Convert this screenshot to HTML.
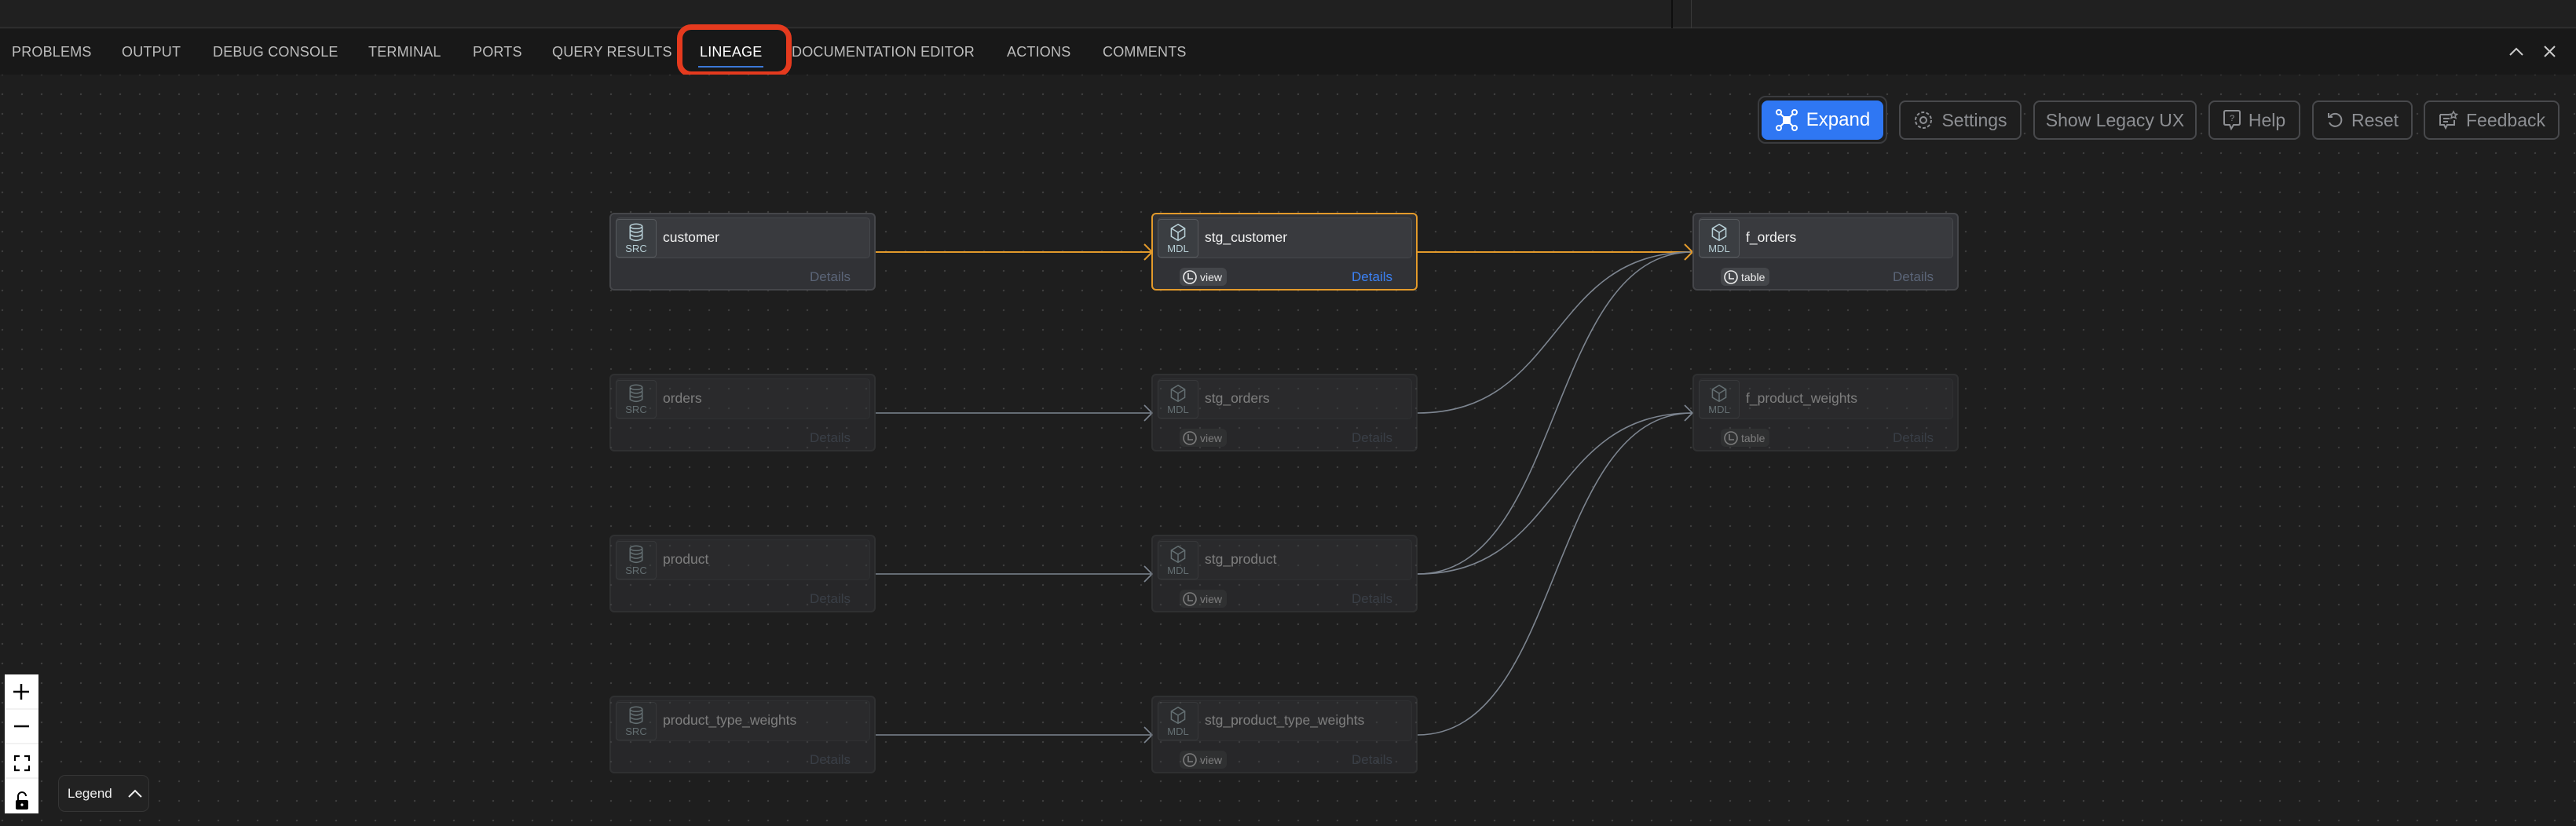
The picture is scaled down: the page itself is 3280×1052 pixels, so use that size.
<!DOCTYPE html>
<html><head><meta charset="utf-8"><style>
*{box-sizing:border-box;margin:0;padding:0}
body{width:3280px;height:1052px;overflow:hidden;background:#1e1e1e;font-family:"Liberation Sans",sans-serif;position:relative}
.top{position:absolute;left:0;top:0;width:3280px;height:36px;background:#202020;border-bottom:2px solid #2c2c2c}
.tabs{position:absolute;left:0;top:37px;width:3280px;height:58px;background:#181818}
.tab{position:absolute;top:56px;font-size:18px;color:#bdbdbd;letter-spacing:0.2px}
.canvas{position:absolute;left:0;top:95px;width:3280px;height:957px;background-color:#1e1e1e;background-image:radial-gradient(circle,#3e3e3e 1px,transparent 1.4px);background-size:25px 25px;background-position:-9.5px -12.5px}
.btn{position:absolute;top:128px;height:50px;border:2px solid #48494c;border-radius:8px;color:#8d8f93;font-size:23px;display:flex;align-items:center;justify-content:center;gap:10px;background:#1e1e1e}
.node{position:absolute;width:339px;height:99px;border:2px solid #45464a;border-radius:6px;background:#313236}
.node.dim{opacity:.45;background:rgba(60,61,65,.7)}
.hdr{position:absolute;left:6px;top:4px;width:324px;height:52px;border:1px solid #45474b;border-radius:5px;background:#393a3e}
.ic{position:absolute;left:6px;top:6px;width:52px;height:49px;border:1.5px solid #56595d;border-radius:4px;background:#3b3e42;color:#b7cfd6;font-size:13px;line-height:14px;text-align:center;overflow:hidden}
.ic svg{display:block;margin:4px auto 2px;height:24px}
.nm{position:absolute;left:66px;top:19px;font-size:17.5px;color:#f0f0f0}
.det{position:absolute;right:30px;top:70px;font-size:17px;color:#5b6578}
.pill{position:absolute;left:34px;top:68px;height:23px;padding:0 6px 0 3px;border-radius:6px;background:#44464a;color:#eee;font-size:14px;display:flex;align-items:center;gap:3px}
</style></head><body>
<div class="top"></div>
<div style="position:absolute;left:2128px;top:0;width:2px;height:36px;background:#0e0e0e"></div>
<div style="position:absolute;left:2153px;top:0;width:1px;height:36px;background:#3a3a3a"></div>
<div class="tabs"></div>
<div class="tab" style="left:15px">PROBLEMS</div>
<div class="tab" style="left:155px">OUTPUT</div>
<div class="tab" style="left:271px">DEBUG CONSOLE</div>
<div class="tab" style="left:469px">TERMINAL</div>
<div class="tab" style="left:602px">PORTS</div>
<div class="tab" style="left:703px">QUERY RESULTS</div>
<div class="tab" style="left:891px;color:#fff">LINEAGE</div>
<div style="position:absolute;left:889px;top:84px;width:83px;height:2px;background:#3b78d8"></div>
<div style="position:absolute;left:862px;top:31px;width:146px;height:67px;border:7px solid #e53a1e;border-radius:18px"></div>
<div class="tab" style="left:1008px">DOCUMENTATION EDITOR</div>
<div class="tab" style="left:1282px">ACTIONS</div>
<div class="tab" style="left:1404px">COMMENTS</div>
<svg style="position:absolute;left:3190px;top:55px" width="70" height="22"><path d="M6 15 L14 7 L22 15" stroke="#ccc" stroke-width="2" fill="none"/><path d="M50 4 L63 17 M63 4 L50 17" stroke="#ccc" stroke-width="2"/></svg>

<div class="canvas"></div>

<svg style="position:absolute;left:0;top:0" width="3280" height="1052">
<g fill="none" stroke-width="2">
<path d="M1115 321 L1467 321" stroke="#e39a2b"/>
<path d="M1457 311 L1467 321 L1457 331" stroke="#e39a2b"/>
<path d="M1805 321 L2155 321" stroke="#e39a2b"/>
<g stroke="#7d8590" stroke-width="1.6">
<path d="M1115 526 L1467 526"/><path d="M1457 516 L1467 526 L1457 536"/>
<path d="M1115 731 L1467 731"/><path d="M1457 721 L1467 731 L1457 741"/>
<path d="M1115 936 L1467 936"/><path d="M1457 926 L1467 936 L1457 946"/>
<path d="M1805 526 C1990 526 1970 321 2155 321"/>
<path d="M1805 731 C1990 731 1970 321 2155 321"/>
<path d="M1805 731 C1990 731 1970 526 2155 526"/>
<path d="M1805 936 C1990 936 1970 526 2155 526"/>
<path d="M2145 516 L2155 526 L2145 536"/>
<path d="M2145 311 L2155 321 L2145 331"/>
</g>
<path d="M2145 311 L2155 321 L2145 331" stroke="#e39a2b"/>
</g>
</svg>

<div style="position:absolute;left:2238px;top:122px;width:165px;height:61px;border:2px solid #3a3b3e;border-radius:10px"></div>
<div class="btn" style="left:2243px;width:155px;background:#2f77f3;border-color:#2f77f3;color:#fff;font-size:24px">
<svg width="30" height="30" viewBox="0 0 30 30" fill="none" stroke="#fff" stroke-width="2"><circle cx="5" cy="5" r="3"/><circle cx="25" cy="5" r="3"/><circle cx="5" cy="25" r="3"/><circle cx="25" cy="25" r="3"/><path d="M7 7 L23 23 M23 7 L7 23"/><rect x="11" y="11" width="8" height="8" fill="#fff"/></svg>Expand</div>
<div class="btn" style="left:2418px;width:156px"><svg width="26" height="26" viewBox="0 0 26 26" fill="none" stroke="#8d8f93" stroke-width="2"><circle cx="13" cy="13" r="4"/><circle cx="13" cy="13" r="10" stroke-dasharray="4 2.3"/></svg>Settings</div>
<div class="btn" style="left:2589px;width:208px">Show Legacy UX</div>
<div class="btn" style="left:2812px;width:117px"><svg width="22" height="28" viewBox="0 0 22 28" fill="none" stroke="#8d8f93" stroke-width="2"><path d="M3 2 H19 Q21 2 21 4 V18 Q21 20 19 20 H13 L10 25 L8 20 H3 Q1 20 1 18 V4 Q1 2 3 2Z"/><text x="11" y="15" font-size="11" fill="#8d8f93" stroke="none" text-anchor="middle" font-family="Liberation Sans">?</text></svg>Help</div>
<div class="btn" style="left:2944px;width:128px"><svg width="22" height="22" viewBox="0 0 22 22" fill="none" stroke="#8d8f93" stroke-width="2"><path d="M5 6 A8 8 0 1 1 4 14"/><path d="M3 2 V7 H8"/></svg>Reset</div>
<div class="btn" style="left:3086px;width:173px"><svg width="26" height="26" viewBox="0 0 26 26" fill="none" stroke="#8d8f93" stroke-width="2"><path d="M3 6 H15 M3 6 V19 H8 L10 23 L12 19 H21 V13"/><path d="M7 11 H15 M7 15 H13"/><path d="M20 2 L21.5 5 L24.5 5.5 L22 7.5 L23 10.5 L20 9 L17 10.5 L18 7.5 L15.5 5.5 L18.5 5Z" stroke-width="1.5"/></svg>Feedback</div>

<div class="node" style="left:776px;top:271px">
<div class="hdr"></div>
<div class="ic"><svg width="20" height="24" viewBox="0 0 22 28" fill="none" stroke="#b7cfd6" stroke-width="1.8"><ellipse cx="11" cy="5" rx="9" ry="3.5"/><path d="M2 5 V23 Q11 29 20 23 V5 M2 11 Q11 17 20 11 M2 17 Q11 23 20 17"/></svg>SRC</div>
<div class="nm">customer</div><div class="det">Details</div></div>

<div class="node" style="left:1466px;top:271px;border-color:#e39a2b">
<div class="hdr"></div>
<div class="ic"><svg width="22" height="24" viewBox="0 0 24 28" fill="none" stroke="#b7cfd6" stroke-width="1.8"><path d="M12 2 L22 8 V20 L12 26 L2 20 V8 Z M2 8 L12 14 L22 8 M12 14 V26"/></svg>MDL</div>
<div class="nm">stg_customer</div>
<div class="pill"><svg width="20" height="20" viewBox="0 0 20 20" fill="none" stroke="#eee" stroke-width="1.6"><circle cx="10" cy="10" r="8"/><path d="M8 5 V12 H14"/></svg>view</div>
<div class="det" style="color:#3b82f6">Details</div></div>

<div class="node" style="left:2155px;top:271px">
<div class="hdr"></div>
<div class="ic"><svg width="22" height="24" viewBox="0 0 24 28" fill="none" stroke="#b7cfd6" stroke-width="1.8"><path d="M12 2 L22 8 V20 L12 26 L2 20 V8 Z M2 8 L12 14 L22 8 M12 14 V26"/></svg>MDL</div>
<div class="nm">f_orders</div>
<div class="pill"><svg width="20" height="20" viewBox="0 0 20 20" fill="none" stroke="#eee" stroke-width="1.6"><circle cx="10" cy="10" r="8"/><path d="M8 5 V12 H14"/></svg>table</div>
<div class="det">Details</div></div>

<div class="node dim" style="left:776px;top:476px"><div class="hdr"></div>
<div class="ic"><svg width="20" height="24" viewBox="0 0 22 28" fill="none" stroke="#b7cfd6" stroke-width="1.8"><ellipse cx="11" cy="5" rx="9" ry="3.5"/><path d="M2 5 V23 Q11 29 20 23 V5 M2 11 Q11 17 20 11 M2 17 Q11 23 20 17"/></svg>SRC</div>
<div class="nm">orders</div><div class="det">Details</div></div>
<div class="node dim" style="left:1466px;top:476px"><div class="hdr"></div>
<div class="ic"><svg width="22" height="24" viewBox="0 0 24 28" fill="none" stroke="#b7cfd6" stroke-width="1.8"><path d="M12 2 L22 8 V20 L12 26 L2 20 V8 Z M2 8 L12 14 L22 8 M12 14 V26"/></svg>MDL</div>
<div class="nm">stg_orders</div>
<div class="pill"><svg width="20" height="20" viewBox="0 0 20 20" fill="none" stroke="#eee" stroke-width="1.6"><circle cx="10" cy="10" r="8"/><path d="M8 5 V12 H14"/></svg>view</div>
<div class="det">Details</div></div>
<div class="node dim" style="left:2155px;top:476px"><div class="hdr"></div>
<div class="ic"><svg width="22" height="24" viewBox="0 0 24 28" fill="none" stroke="#b7cfd6" stroke-width="1.8"><path d="M12 2 L22 8 V20 L12 26 L2 20 V8 Z M2 8 L12 14 L22 8 M12 14 V26"/></svg>MDL</div>
<div class="nm">f_product_weights</div>
<div class="pill"><svg width="20" height="20" viewBox="0 0 20 20" fill="none" stroke="#eee" stroke-width="1.6"><circle cx="10" cy="10" r="8"/><path d="M8 5 V12 H14"/></svg>table</div>
<div class="det">Details</div></div>

<div class="node dim" style="left:776px;top:681px"><div class="hdr"></div>
<div class="ic"><svg width="20" height="24" viewBox="0 0 22 28" fill="none" stroke="#b7cfd6" stroke-width="1.8"><ellipse cx="11" cy="5" rx="9" ry="3.5"/><path d="M2 5 V23 Q11 29 20 23 V5 M2 11 Q11 17 20 11 M2 17 Q11 23 20 17"/></svg>SRC</div>
<div class="nm">product</div><div class="det">Details</div></div>
<div class="node dim" style="left:1466px;top:681px"><div class="hdr"></div>
<div class="ic"><svg width="22" height="24" viewBox="0 0 24 28" fill="none" stroke="#b7cfd6" stroke-width="1.8"><path d="M12 2 L22 8 V20 L12 26 L2 20 V8 Z M2 8 L12 14 L22 8 M12 14 V26"/></svg>MDL</div>
<div class="nm">stg_product</div>
<div class="pill"><svg width="20" height="20" viewBox="0 0 20 20" fill="none" stroke="#eee" stroke-width="1.6"><circle cx="10" cy="10" r="8"/><path d="M8 5 V12 H14"/></svg>view</div>
<div class="det">Details</div></div>

<div class="node dim" style="left:776px;top:886px"><div class="hdr"></div>
<div class="ic"><svg width="20" height="24" viewBox="0 0 22 28" fill="none" stroke="#b7cfd6" stroke-width="1.8"><ellipse cx="11" cy="5" rx="9" ry="3.5"/><path d="M2 5 V23 Q11 29 20 23 V5 M2 11 Q11 17 20 11 M2 17 Q11 23 20 17"/></svg>SRC</div>
<div class="nm">product_type_weights</div><div class="det">Details</div></div>
<div class="node dim" style="left:1466px;top:886px"><div class="hdr"></div>
<div class="ic"><svg width="22" height="24" viewBox="0 0 24 28" fill="none" stroke="#b7cfd6" stroke-width="1.8"><path d="M12 2 L22 8 V20 L12 26 L2 20 V8 Z M2 8 L12 14 L22 8 M12 14 V26"/></svg>MDL</div>
<div class="nm">stg_product_type_weights</div>
<div class="pill"><svg width="20" height="20" viewBox="0 0 20 20" fill="none" stroke="#eee" stroke-width="1.6"><circle cx="10" cy="10" r="8"/><path d="M8 5 V12 H14"/></svg>view</div>
<div class="det">Details</div></div>

<div style="position:absolute;left:6px;top:859px;width:43px;height:177px;background:#fff">
<svg width="43" height="177" viewBox="0 0 43 177">
<path d="M0 44 H43 M0 88 H43 M0 132 H43" stroke="#e6e6e6" stroke-width="1"/>
<path d="M11 22 H31 M21 12 V32" stroke="#000" stroke-width="2.5"/>
<path d="M12 66 H31" stroke="#000" stroke-width="2.5"/>
<path d="M13 110 V104 H19 M25 104 H31 V110 M31 116 V122 H25 M19 122 H13 V116" stroke="#000" stroke-width="2.2" fill="none"/>
<path d="M17 162 V155 A5 5 0 0 1 27 155" stroke="#000" stroke-width="2" fill="none"/>
<rect x="14" y="160" width="16" height="12" rx="2" fill="#000"/><circle cx="22" cy="166" r="1.6" fill="#fff"/>
</svg></div>
<div style="position:absolute;left:74px;top:987px;width:116px;height:47px;background:#222;border:1px solid #353535;border-radius:9px;color:#eee;font-size:17px;padding:13px 0 0 11px">Legend
<svg style="position:absolute;left:87px;top:16px" width="20" height="14"><path d="M2 11 L10 3 L18 11" stroke="#eee" stroke-width="2" fill="none"/></svg></div>
</body></html>
